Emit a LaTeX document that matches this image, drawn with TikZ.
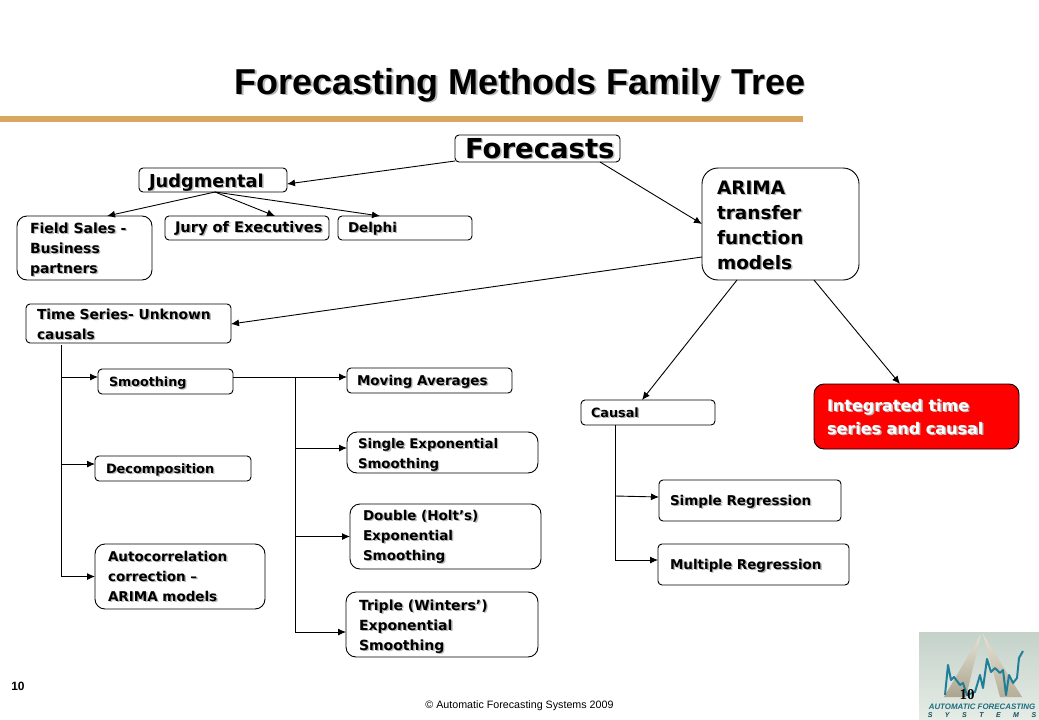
\documentclass[tikz,border=0pt]{standalone}
\usepackage{fontspec}
\setmainfont{DejaVu Sans}
\newfontfamily\arialf{Liberation Sans}
\newfontfamily\timesf{Liberation Serif}
\usetikzlibrary{arrows.meta,calc}
\definecolor{goldline}{HTML}{D9A860}
\definecolor{alertred}{HTML}{FF0000}
\definecolor{softshadow}{HTML}{B8B8B8}
\definecolor{logoteal}{HTML}{1F7F98}
\definecolor{logodark}{HTML}{1C6E80}
\definecolor{logotri}{HTML}{D5CDB4}
\definecolor{logotop}{HTML}{C4D2CA}
\definecolor{logobot}{HTML}{E6ECE6}
\tikzset{
  boxs/.style={draw=black,line width=0.9pt,rounded corners=4pt,inner sep=0pt,outer sep=0pt,fill=white},
  big/.style={rounded corners=10pt},
  huge/.style={rounded corners=16pt},
  fs/.style={font=\fontsize{#1}{20}\selectfont\bfseries},
  small/.style={fs=13.5},
  large/.style={font=\fontsize{18.5}{25}\selectfont\bfseries},
  conn/.style={line width=0.9pt,draw=black},
  arr/.style={conn,-{Latex[length=8pt,width=7pt]}},
}
\newcommand\shadowtab[1]{\rlap{\color{softshadow}\hspace*{1.4pt}\raisebox{-1.4pt}{\begin{tabular}[t]{@{}l@{}}#1\end{tabular}}}\begin{tabular}[t]{@{}l@{}}#1\end{tabular}}
\newcommand\bx[9]{%
  \pgfmathsetmacro\cx{(#2+#4)/2}%
  \pgfmathsetmacro\cy{(#3+#5)/2}%
  \pgfmathsetmacro\dx{#6-\cx}%
  \pgfmathsetmacro\dy{\cy-#7}%
  \node[boxs,#8,minimum width={(#4-#2)*1pt},minimum height={(#5-#3)*1pt}] (#1) at (\cx,\cy)
    {\makebox[0pt][l]{\hspace*{\dx pt}\smash{\raisebox{\dy pt}{\shadowtab{#9}}}}};%
}
\begin{document}
\begin{tikzpicture}[x=1pt,y=-1pt]
\useasboundingbox (0,0) rectangle (1039,720);
\fill[white] (0,0) rectangle (1039,720);

% title
\node[inner sep=0pt,anchor=base,font=\arialf\fontsize{36}{38}\selectfont\bfseries] (title) at (520,94)
  {\rlap{\color{softshadow}\hspace*{1.6pt}\raisebox{-1.6pt}{Forecasting Methods Family Tree}}Forecasting Methods Family Tree};
\coordinate (ruleL) at (0,119);
\coordinate (ruleR) at (803,119);
\draw[goldline,line width=6pt] (ruleL) -- (ruleR);

% boxes
\bx{forecasts}{455}{135}{620}{162}{465}{158}{font=\fontsize{27.5}{32}\selectfont\bfseries}{Forecasts}
\bx{judg}{139}{168}{287}{192}{149}{187}{font=\fontsize{17.8}{24}\selectfont\bfseries}{Judgmental}
\bx{field}{17}{216}{152}{280}{30}{233}{fs=14,big}{Field Sales -\\Business\\partners}
\bx{jury}{165}{216}{329}{240}{175}{232}{fs=14.6}{Jury of Executives}
\bx{delphi}{338}{216}{472}{240}{348}{232}{small}{Delphi}
\bx{arima}{702}{168}{859}{280}{717}{194}{large,huge}{ARIMA\\transfer\\function\\models}
\bx{time}{26}{304}{231}{343}{37}{319}{fs=13.8}{Time Series- Unknown\\causals}
\bx{smooth}{98}{369}{233}{394}{109}{386}{fs=12.7}{Smoothing}
\bx{decomp}{95}{456}{251}{481}{106}{473}{fs=12.9}{Decomposition}
\bx{auto}{95}{544}{265}{609}{108}{561}{small,big}{Autocorrelation\\correction --\\ARIMA models}
\bx{moving}{347}{368}{512}{393}{357}{385}{small}{Moving Averages}
\bx{single}{347}{432}{538}{473}{358}{448}{fs=13.3,big}{Single Exponential\\Smoothing}
\bx{double}{350}{504}{541}{569}{363}{520}{small,big}{Double (Holt’s)\\Exponential\\Smoothing}
\bx{triple}{346}{592}{538}{657}{359}{610}{fs=14,big}{Triple (Winters’)\\Exponential\\Smoothing}
\bx{causal}{581}{400}{715}{425}{591}{417}{fs=12.8}{Causal}
\bx{integ}{814}{384}{1019}{449}{827}{411}{fill=alertred,big,text=white,font=\fontsize{16}{23}\selectfont\bfseries}{Integrated time\\series and causal}
\bx{simple}{659}{480}{841}{521}{670}{505}{small}{Simple Regression}
\bx{multi}{658}{544}{849}{585}{670}{569}{small}{Multiple Regression}

% top-level arrows
\draw[arr] ([yshift=1pt]forecasts.south west) -- ([yshift=-4pt]judg.east);
\draw[arr] ([xshift=-20pt]forecasts.south east) -- (arima.west |- 0,224);
\draw[arr] ([xshift=76pt]judg.south west) -- ([xshift=90pt]field.north west);
\draw[arr] ([xshift=76pt]judg.south west) -- ([xshift=110pt]jury.north west);
\draw[arr] ([xshift=76pt]judg.south west) -- ([xshift=42pt]delphi.north west);
\draw[arr] ([yshift=23pt]arima.south west) -- ([yshift=19pt]time.south east);
\draw[arr] ([xshift=35pt]arima.south west) -- ([xshift=61pt]causal.north west);
\draw[arr] ([xshift=112pt]arima.south west) -- ([xshift=86pt]integ.north west);

% left tree
\coordinate (tTop) at ([xshift=35pt,yshift=-2pt]time.south west);
\coordinate (tB1) at (tTop |- 0,377);
\coordinate (tB2) at (tTop |- 0,464);
\coordinate (tB3) at (tTop |- auto.west);
\draw[conn] (tTop) -- ($(tB3)+(0,0.45)$);
\draw[arr] (tB1) -- (smooth.west |- tB1);
\draw[arr] (tB2) -- (decomp.west |- tB2);
\draw[arr] (tB3) -- (auto.west);

% smoothing tree
\coordinate (sTop) at (295,377);
\coordinate (sB2) at (sTop |- 0,448);
\coordinate (sB3) at (sTop |- double.west);
\coordinate (sB4) at (295,632);
\draw[conn] (smooth.east |- sTop) -- (sTop);
\draw[conn] (sTop) -- (sB4);
\draw[arr] (sTop) -- (moving.west |- sTop);
\draw[arr] (sB2) -- (single.west |- sB2);
\draw[arr] (sB3) -- (double.west);
\draw[arr] (sB4) -- (triple.west |- sB4);

% causal tree
\coordinate (cTop) at ([xshift=34pt]causal.south west);
\coordinate (cB1) at (cTop |- 0,496);
\coordinate (cB2) at (cTop |- 0,560);
\draw[conn] (cTop) -- (cB2);
\draw[arr] (cB1) -- (simple.west |- 0,497);
\draw[arr] (cB2) -- (multi.west |- cB2);

% logo (a scene: shapes drawn directly)
\shade[top color=logotop,bottom color=logobot] (919,632) rectangle (1039,720);
\shade[top color=logotri!60!white,bottom color=logotri!80!black] (981,634) -- (944,697) -- (966,697) -- cycle;
\shade[top color=logotri!60!white,bottom color=logotri!85!black] (983,634) -- (1000,697) -- (1022,697) -- cycle;
\draw[logoteal,line width=2pt,line join=round] (945,695) -- (948,665) -- (951,680) -- (954,677) -- (960,685) -- (963,683) -- (967,695) -- (975,692) -- (980,675) -- (983,688) -- (987,659) -- (991,672) -- (995,668) -- (1000,673) -- (1003,670) -- (1006,695) -- (1009,675) -- (1013,683) -- (1017,678) -- (1019,658) -- (1023,651);
\node[inner sep=0pt,anchor=base,text=logodark,font=\arialf\fontsize{7.9}{9}\selectfont\bfseries\itshape] (logoA) at (982,709) {AUTOMATIC FORECASTING};
\node[inner sep=0pt,anchor=base,text=logodark!70!black,font=\arialf\fontsize{7}{9}\selectfont\bfseries\itshape] (logoB) at (982,717) {S\hspace{12.5pt}Y\hspace{12.5pt}S\hspace{12.5pt}T\hspace{12.5pt}E\hspace{12.5pt}M\hspace{12.5pt}S};

% footer
\node[inner sep=0pt,anchor=base,font=\arialf\fontsize{10.7}{12}\selectfont] (foot) at (519.5,708) {© Automatic Forecasting Systems 2009};
\node[inner sep=0pt,anchor=base,font=\arialf\fontsize{12}{14}\selectfont\bfseries] (numL) at (18,690) {10};
\node[inner sep=0pt,anchor=base,font=\timesf\fontsize{15}{17}\selectfont\bfseries] (numR) at (967,699) {10};
\end{tikzpicture}
\end{document}
